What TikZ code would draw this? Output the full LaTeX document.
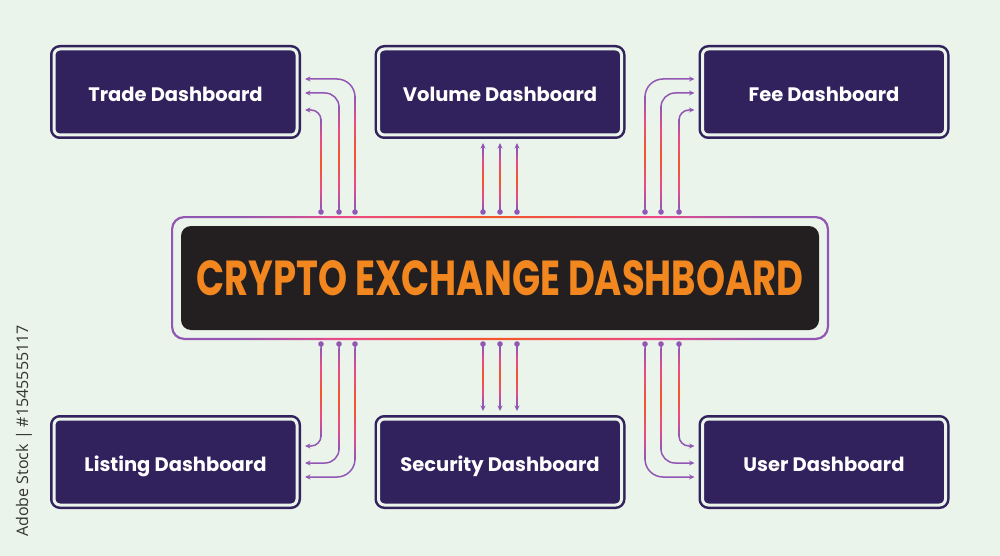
\documentclass[tikz,border=0pt]{standalone}
\usepackage{fontspec}
\usepackage{graphicx}
\setmainfont{Poppins}
\newfontfamily\wmfont{Open Sans}
\usetikzlibrary{arrows.meta}
\definecolor{bgc}{HTML}{EBF4EB}
\definecolor{dkpurple}{HTML}{31215C}
\definecolor{hubblack}{HTML}{231F20}
\definecolor{titleorange}{HTML}{F3871F}
\definecolor{wpurple}{HTML}{9157B3}
\definecolor{wpink}{HTML}{EC4A86}
\definecolor{worange}{HTML}{F2562A}
\pgfdeclareverticalshading{wiresh}{100bp}{color(0bp)=(wpurple); color(25bp)=(wpurple); color(36bp)=(wpink); color(50bp)=(worange); color(64bp)=(wpink); color(75bp)=(wpurple); color(100bp)=(wpurple)}
\pgfdeclarehorizontalshading{ringsh}{100bp}{color(0bp)=(wpurple); color(25bp)=(wpurple); color(30bp)=(wpurple); color(38bp)=(wpink); color(50bp)=(worange); color(62bp)=(wpink); color(70bp)=(wpurple); color(75bp)=(wpurple); color(100bp)=(wpurple)}
\tikzset{
  dbox/.style={draw=dkpurple, line width=2.5pt, double=bgc, double distance=3pt,
    fill=dkpurple, rounded corners=6pt, minimum width=243pt, minimum height=86pt,
    inner sep=0pt, outer sep=0pt, text=white, text height=19pt, text depth=0pt,
    font=\bfseries\fontsize{19.5}{22}\selectfont},
  hubbox/.style={fill=hubblack, rounded corners=10pt, minimum width=638pt,
    minimum height=104pt, inner sep=0pt, outer sep=0pt, text=titleorange},
  wire/.style={draw=wpurple, line width=1.5pt, -{Stealth[length=5.5pt,width=5pt]}},
  wdot/.style={fill=wpurple},
  wm/.style={text=black!80, font=\wmfont\fontsize{16}{18}\selectfont}
}
\newcommand{\wshade}[3]{\shade[shading=wiresh] (#1-0.75,#2) rectangle (#1+0.75,#3);}
\begin{document}
\begin{tikzpicture}[x=1pt,y=-1pt]
\useasboundingbox (0,0) rectangle (1000,556);
\fill[bgc] (0,0) rectangle (1000,556);
% boxes
\node[dbox] (trade) at (175.5,92) {Trade Dashboard};
\node[dbox] (volume) at (500,92) {Volume Dashboard};
\node[dbox] (fee) at (824,92) {Fee Dashboard};
\node[dbox] (listing) at (175.5,462) {Listing Dashboard};
\node[dbox] (security) at (500,462) {Security Dashboard};
\node[dbox] (user) at (824,462) {User Dashboard};
% hub
\shade[shading=ringsh, even odd rule] [rounded corners=13pt] (171,216) rectangle (829,340)
  [rounded corners=11pt] (173.2,218.2) rectangle (826.8,337.8);
\node[hubbox] (hub) at (500,278) {\resizebox{607pt}{35pt}{\bfseries CRYPTO EXCHANGE DASHBOARD}};
% start points (dots) on the hub frame
\foreach \n/\x in {1/321,2/339,3/355,4/483,5/500,6/517,7/645,8/661,9/679}{
  \coordinate (t\n) at (\x,212);
  \coordinate (b\n) at (\x,344);
}
% end points
\coordinate (te1) at ([xshift=8pt,yshift=-18pt]trade.east);
\coordinate (te2) at ([xshift=8pt,yshift=-1pt]trade.east);
\coordinate (te3) at ([xshift=8pt,yshift=13pt]trade.east);
\coordinate (fe1) at ([xshift=-8pt,yshift=13pt]fee.west);
\coordinate (fe2) at ([xshift=-8pt,yshift=-1pt]fee.west);
\coordinate (fe3) at ([xshift=-8pt,yshift=-18pt]fee.west);
\coordinate (le1) at ([xshift=8pt,yshift=16pt]listing.east);
\coordinate (le2) at ([xshift=8pt,yshift=-1pt]listing.east);
\coordinate (le3) at ([xshift=8pt,yshift=-15pt]listing.east);
\coordinate (ue1) at ([xshift=-8pt,yshift=-15pt]user.west);
\coordinate (ue2) at ([xshift=-8pt,yshift=-1pt]user.west);
\coordinate (ue3) at ([xshift=-8pt,yshift=16pt]user.west);
\coordinate (vb) at ([yshift=-8pt]volume.south);
\coordinate (st) at ([yshift=8pt]security.north);
% top-left
\draw[wire, rounded corners=10pt] (t1) |- (te1);
\draw[wire, rounded corners=14pt] (t2) |- (te2);
\draw[wire, rounded corners=18pt] (t3) |- (te3);
\wshade{321}{120}{208}\wshade{339}{107}{208}\wshade{355}{97}{208}
% top-middle
\draw[wire] (t4) -- (t4 |- vb);
\draw[wire] (t5) -- (t5 |- vb);
\draw[wire] (t6) -- (t6 |- vb);
\wshade{483}{150}{208}\wshade{500}{150}{208}\wshade{517}{150}{208}
% top-right
\draw[wire, rounded corners=18pt] (t7) |- (fe1);
\draw[wire, rounded corners=14pt] (t8) |- (fe2);
\draw[wire, rounded corners=10pt] (t9) |- (fe3);
\wshade{645}{97}{208}\wshade{661}{107}{208}\wshade{679}{120}{208}
% bottom-left
\draw[wire, rounded corners=10pt] (b1) |- (le1);
\draw[wire, rounded corners=14pt] (b2) |- (le2);
\draw[wire, rounded corners=18pt] (b3) |- (le3);
\wshade{321}{348}{436}\wshade{339}{348}{449}\wshade{355}{348}{459}
% bottom-middle
\draw[wire] (b4) -- (b4 |- st);
\draw[wire] (b5) -- (b5 |- st);
\draw[wire] (b6) -- (b6 |- st);
\wshade{483}{348}{404}\wshade{500}{348}{404}\wshade{517}{348}{404}
% bottom-right
\draw[wire, rounded corners=18pt] (b7) |- (ue1);
\draw[wire, rounded corners=14pt] (b8) |- (ue2);
\draw[wire, rounded corners=10pt] (b9) |- (ue3);
\wshade{645}{348}{459}\wshade{661}{348}{449}\wshade{679}{348}{436}
% dots
\foreach \n in {1,...,9}{
  \fill[wdot] (t\n) circle (2.8pt);
  \fill[wdot] (b\n) circle (2.8pt);
}
% side text
\node[wm, rotate=90] (wmark) at (24,431) {Adobe Stock | \#1545555117};
\end{tikzpicture}
\end{document}
